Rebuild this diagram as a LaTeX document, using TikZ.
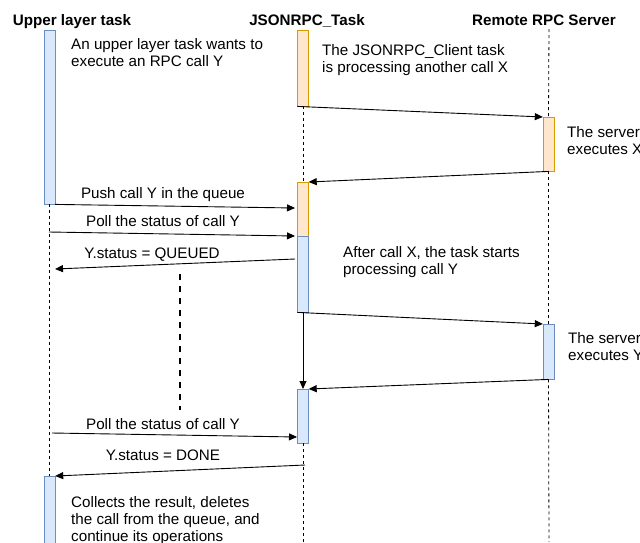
\documentclass[tikz,border=0pt]{standalone}
\usepackage{fontspec}
\setmainfont{Liberation Sans}
\usetikzlibrary{positioning,arrows.meta}
\definecolor{bluefill}{HTML}{DAE8FC}
\definecolor{bluedraw}{HTML}{6C8EBF}
\definecolor{orangefill}{HTML}{FFE6CC}
\definecolor{orangedraw}{HTML}{D79B00}
\begin{document}
\begin{tikzpicture}[x=1pt,y=-1pt,
                    font=\fontsize{15.2}{17}\selectfont,
                    head/.style={font=\fontsize{15.2}{17}\selectfont\bfseries,anchor=base,inner sep=0},
                    bluebar/.style={draw=bluedraw,fill=bluefill,minimum width=11,inner sep=0,anchor=north},
                    orangebar/.style={draw=orangedraw,fill=orangefill,minimum width=11,inner sep=0,anchor=north},
                    life/.style={dash pattern=on 3pt off 3pt,line width=0.8pt},
                    msg/.style={-{Triangle[length=8pt,width=7pt]},line width=0.9pt},
                    lbl/.style={anchor=base,inner sep=0},
                    note/.style={align=left,anchor=base west,inner sep=0}
                ]
                    \useasboundingbox (0,0) rectangle (640,542);
                    % headers
                    \node[head] (hUpper) at (72,25) {Upper layer task};
                    \node[head] (hTask) at (307,25) {JSONRPC\_Task};
                    \node[head] (hServer) at (544,25) {Remote RPC Server};
                    % activation bars
                    \node[bluebar,minimum height=174] (up1) at (49.5,30) {};
                    \node[bluebar,minimum height=80] (up2) at (49.5,476) {};
                    \node[orangebar,minimum height=76] (tk1) at (303,30) {};
                    \node[orangebar,minimum height=54] (tk2) at (303,182) {};
                    \node[bluebar,minimum height=76] (tk3) at (303,236) {};
                    \node[bluebar,minimum height=54] (tk4) at (303,389) {};
                    \node[orangebar,minimum height=54] (sv1) at (548.5,117) {};
                    \node[bluebar,minimum height=55] (sv2) at (548.5,324) {};
                    % lifelines
                    \coordinate (endTask) at (303,542);
                    \coordinate (endServer) at (549,542);
                    \coordinate (topServer) at (549,29);
                    \draw[life] (up1.south) -- (up2.north);
                    \draw[life] (tk1.south) -- (tk2.north);
                    \draw[life] (tk4.south) -- (endTask);
                    \draw[life] (topServer) -- (sv1.north);
                    \draw[life] (sv1.south) -- (sv2.north);
                    \draw[life] (sv2.south) -- (endServer);
                    % waiting
                    \coordinate (waitTop) at (180,274);
                    \coordinate (waitBot) at (180,410);
                    \draw[line width=2pt,dash pattern=on 6pt off 6pt] (waitTop) -- (waitBot);
                    % message ends
                    \coordinate (pushEnd) at (295,208);
                    \coordinate (pollStart) at (49,232);
                    \coordinate (pollEnd) at (295,236);
                    \coordinate (queuedStart) at (295,259);
                    \coordinate (queuedEnd) at (55,269);
                    \coordinate (poll2Start) at (52,433);
                    \coordinate (poll2End) at (297,437);
                    \coordinate (doneStart) at (305,465);
                    % messages
                    \draw[msg] (tk1.south west) -- (sv1.north west);
                    \draw[msg] (sv1.south) -- (tk2.north east);
                    \draw[msg] (up1.south east) -- (pushEnd);
                    \draw[msg] (pollStart) -- (pollEnd);
                    \draw[msg] (queuedStart) -- (queuedEnd);
                    \draw[msg] (tk3.south west) -- (sv2.north west);
                    \draw[msg] (tk3.south) -- (tk4.north);
                    \draw[msg] (sv2.south) -- (tk4.north east);
                    \draw[msg] (poll2Start) -- (poll2End);
                    \draw[msg] (doneStart) -- (up2.north east);
                    % labels
                    \node[lbl] (lPush) at (163,198.5) {Push call Y in the queue};
                    \node[lbl] (lPoll) at (163,226) {Poll the status of call Y};
                    \node[lbl] (lQueued) at (152,258.5) {Y.status = QUEUED};
                    \node[lbl] (lPoll2) at (163,429) {Poll the status of call Y};
                    \node[lbl] (lDone) at (163,460) {Y.status = DONE};
                    % notes (base = last line)
                    \node[note] (nUpper) at (71,66.5) {An upper layer task wants to\\execute an RPC call Y};
                    \node[note] (nTask) at (322,72.5) {The JSONRPC\_Client task\\is processing another call X};
                    \node[note] (nServerX) at (567,154) {The server\\executes X};
                    \node[note] (nAfter) at (343,274) {After call X, the task starts\\processing call Y};
                    \node[note] (nServerY) at (568,360) {The server\\executes Y};
                    \node[note] (nCollect) at (71,541) {Collects the result, deletes\\the call from the queue, and\\continue its operations};
                \end{tikzpicture}
\end{document}
